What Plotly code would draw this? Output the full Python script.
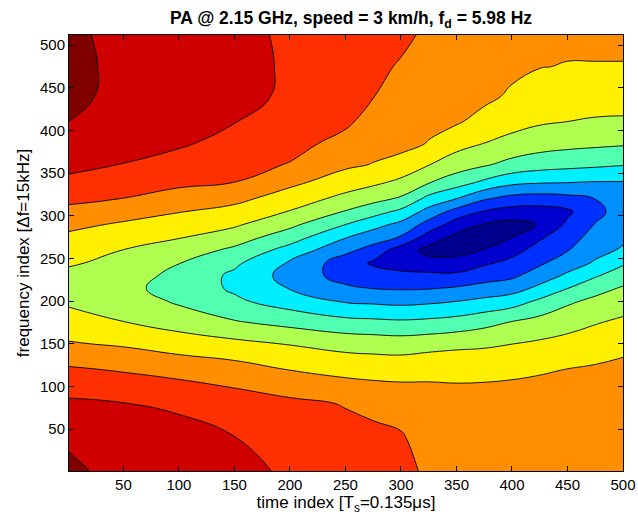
import plotly.graph_objects as go

# Sample positions of the channel-gain grid
time_idx = [1, 50, 100, 150, 200, 250, 275, 300, 325, 350, 375, 400, 425,
            450, 475, 500]
freq_idx = [1, 40, 80, 120, 150, 175, 200, 215, 230, 245, 260, 275, 290,
            305, 320, 340, 360, 385, 410, 440, 475, 512]

# Channel gain (contour-level units) per time column, listed from
# frequency index 1 up to 512
gain_t1 = [11.3, 10.78, 10.17, 9.12, 8.08, 7.44, 6.83, 6.45, 6.74, 7.12, 7.47,
           7.81, 8.24, 8.74, 9.22, 9.82, 10.22, 10.61, 10.99, 11.25, 11.45, 11.6]
gain_t50 = [10.51, 10.27, 10.02, 8.91, 7.88, 7.03, 6.54, 6.26, 6.43, 6.71, 6.99,
            7.44, 7.88, 8.42, 8.98, 9.48, 9.98, 10.22, 10.45, 10.72, 10.6, 10.13]
gain_t100 = [10.4, 10.26, 9.88, 8.64, 7.54, 6.59, 5.86, 5.63, 5.74, 6.03, 6.55,
             7.06, 7.55, 8.04, 8.62, 9.21, 9.64, 10.12, 10.25, 10.4, 10.35, 10.09]
gain_t150 = [10.2, 10.02, 9.5, 8.4, 7.26, 6.1, 5.18, 4.85, 4.8, 5.2, 5.8,
             6.48, 7.15, 7.69, 8.25, 9.02, 9.32, 9.7, 10.02, 10.15, 10.18, 10.12]
gain_t200 = [9.9, 9.5, 9.22, 7.97, 6.95, 5.72, 4.52, 3.96, 3.64, 3.89, 4.63,
             5.47, 6.24, 6.95, 7.54, 8.24, 8.95, 9.3, 9.6, 9.92, 9.93, 9.93]
gain_t250 = [9.5, 9.3, 8.95, 7.7, 6.65, 5.33, 3.9, 3.19, 2.6, 2.5, 3.26,
             4.06, 5.01, 5.94, 6.7, 7.54, 8.17, 8.72, 9.15, 9.3, 9.38, 9.4]
gain_t275 = [9.38, 9.25, 8.75, 7.65, 6.57, 5.25, 3.81, 2.99, 2.38, 1.87, 2.63,
             3.47, 4.36, 5.4, 6.3, 7.22, 7.96, 8.32, 8.66, 9.02, 9.13, 9.25]
gain_t300 = [9.25, 9.1, 8.6, 7.65, 6.5, 5.18, 3.72, 2.92, 2.32, 1.45, 1.5,
             2.93, 3.74, 4.77, 5.86, 6.82, 7.59, 8.35, 8.5, 8.68, 8.95, 9.12]
gain_t325 = [8.85, 8.55, 8.35, 7.8, 6.61, 5.26, 3.82, 2.95, 2.24, 1.33, 0.72,
             1.54, 2.64, 3.63, 4.69, 6.1, 7.03, 7.95, 8.25, 8.45, 8.68, 8.9]
gain_t350 = [8.55, 8.42, 8.3, 7.8, 6.75, 5.41, 3.99, 3.12, 2.19, 1.37, 0.66,
             0.76, 1.53, 2.64, 3.99, 5.5, 6.48, 7.35, 8.1, 8.3, 8.5, 8.65]
gain_t375 = [8.52, 8.4, 8.3, 7.82, 6.83, 5.71, 4.24, 3.35, 2.57, 1.84, 1.05,
             0.36, 0.96, 1.93, 3.1, 4.85, 6.11, 6.99, 7.65, 8.22, 8.35, 8.5]
gain_t400 = [8.5, 8.38, 8.28, 7.88, 6.99, 6.07, 4.53, 3.59, 2.81, 2.26, 1.65,
             0.99, 0.7, 1.6, 2.64, 4.31, 5.69, 6.69, 7.33, 7.85, 8.22, 8.4]
gain_t425 = [8.47, 8.36, 8.25, 7.95, 7.15, 6.37, 5.18, 4.25, 3.48, 2.84, 2.38,
             1.86, 1.05, 1.57, 2.54, 4.14, 5.42, 6.44, 7.1, 7.54, 8.03, 8.3]
gain_t450 = [8.45, 8.35, 8.2, 8.01, 7.32, 6.65, 5.83, 4.99, 4.17, 3.52, 2.95,
             2.56, 2.18, 1.82, 2.69, 4.07, 5.29, 6.29, 6.99, 7.42, 7.96, 8.2]
gain_t475 = [8.45, 8.38, 8.28, 8.12, 7.51, 6.94, 6.23, 5.65, 4.89, 4.1, 3.71,
             3.38, 3.04, 2.72, 3.01, 3.99, 5.18, 6.2, 6.91, 7.38, 7.96, 8.2]
gain_t500 = [8.45, 8.4, 8.33, 8.25, 7.72, 7.18, 6.54, 6.11, 5.52, 4.85, 4.1,
             3.83, 3.64, 3.45, 3.69, 3.99, 5.05, 6.12, 6.88, 7.37, 7.96, 8.2]

gain_columns = [gain_t1, gain_t50, gain_t100, gain_t150, gain_t200, gain_t250,
                gain_t275, gain_t300, gain_t325, gain_t350, gain_t375,
                gain_t400, gain_t425, gain_t450, gain_t475, gain_t500]

# Contour levels and one jet colour per filled band (lowest to highest)
level_start, level_end, level_step = 1, 11, 1
band_colors = ["#00008F", "#0000CF", "#0030FF", "#008FFF", "#00EFFF", "#50FFAF",
               "#AFFF50", "#FFEF00", "#FF8F00", "#FF3000", "#CF0000", "#800000"]

x_ticks = [50, 100, 150, 200, 250, 300, 350, 400, 450, 500]
y_ticks = [50, 100, 150, 200, 250, 300, 350, 400, 450, 500]

# rows = frequency index, columns = time index
z = [[col[i] for col in gain_columns] for i in range(len(freq_idx))]

n_bands = len(band_colors)
colorscale = [[k / (n_bands - 1), c] for k, c in enumerate(band_colors)]

FONT = "Liberation Sans, Arial, Helvetica, sans-serif"

fig = go.Figure(go.Contour(
    x=time_idx, y=freq_idx, z=z,
    autocontour=False,
    contours=dict(start=level_start, end=level_end, size=level_step,
                  coloring="fill"),
    colorscale=colorscale,
    showscale=False,
    line=dict(color="black", width=0.9, smoothing=1.3),
    hoverinfo="skip",
))

axis_common = dict(
    showgrid=False, zeroline=False, automargin=False,
    showline=True, linecolor="black", linewidth=1, mirror="ticks",
    ticks="inside", ticklen=5, tickwidth=1, tickcolor="black",
    tickfont=dict(family=FONT, size=15, color="black"),
)

fig.update_layout(
    width=638, height=518,
    margin=dict(l=69, r=15, t=35, b=47),
    paper_bgcolor="white", plot_bgcolor="white",
    title=dict(
        text="<b>PA @ 2.15 GHz, speed = 3 km/h, f<sub>d</sub> = 5.98 Hz</b>",
        font=dict(family=FONT, size=17.5, color="black"),
        x=351 / 638, xanchor="center", xref="container",
        y=1 - 18 / 518, yanchor="middle", yref="container",
    ),
    xaxis=dict(range=[1, 500], tickvals=x_ticks,
               title=dict(text="time index [T<sub>s</sub>=0.135\u03bcs]",
                          font=dict(family=FONT, size=17, color="black"),
                          standoff=2),
               **axis_common),
    yaxis=dict(range=[1, 512], tickvals=y_ticks,
               title=dict(text="frequency index [\u0394f=15kHz]",
                          font=dict(family=FONT, size=17, color="black"),
                          standoff=6),
               **axis_common),
)

fig.write_html("out.html")
